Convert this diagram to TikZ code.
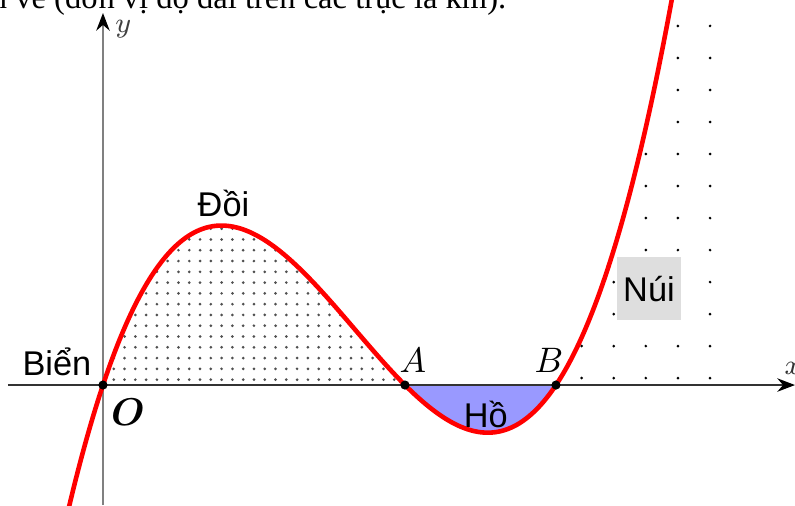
\documentclass[tikz,border=0pt]{standalone}
\usepackage{fontspec}
\usepackage{bm}
\setmainfont{Liberation Serif}
\newfontfamily\nhanfont{Liberation Sans}
\usetikzlibrary{arrows.meta}
\definecolor{mauho}{RGB}{153,153,255}
\definecolor{maunui}{RGB}{222,222,222}
\definecolor{mauchamdoi}{RGB}{80,80,80}
\tikzset{
	nhan/.style={font=\nhanfont\fontsize{9.7}{11}\selectfont,inner sep=0pt},
	diem/.style={font=\fontsize{10}{12}\selectfont,inner sep=0pt}
}
\begin{document}
\begin{tikzpicture}[smooth,samples=200,x=1.5cm,y=1.5cm,>={Stealth[length=5pt,width=3.8pt,color=black]}]
	\clip (-0.682,-0.795) rectangle (4.583,2.550);
	\node[anchor=base east,inner sep=0pt,font=\fontsize{9.2}{11}\selectfont] (dong) at (2.675,2.492) {n vẽ (đơn vị độ dài trên các trục là km).};
	\coordinate (O) at (0,0);
	\coordinate (A) at (2,0);
	\coordinate (B) at (3,0);
	% ho
	\fill[mauho] (A) -- plot[domain=2:3] (\x,{0.5*\x*(\x-2)*(\x-3)}) -- cycle;
	% doi
	\begin{scope}
		\clip (O) -- plot[domain=0:2] (\x,{0.5*\x*(\x-2)*(\x-3)}) -- cycle;
		\foreach \i in {1,...,28}
			\foreach \j in {0,...,14}
				\fill[mauchamdoi] (\i/14,{(\j+0.5)/14}) circle (0.42pt);
	\end{scope}
	% nui
	\begin{scope}
		\clip (B) -- plot[domain=3:3.8] (\x,{0.5*\x*(\x-2)*(\x-3)}) -- (4.2,2.8) -- (4.2,0) -- cycle;
		\foreach \i in {0,...,4}
			\foreach \j in {0,...,11}
				\fill ({3.17+\i*0.2126},{0.046+\j*0.212}) circle (0.42pt);
	\end{scope}
	\draw[->,black!80,line width=0.5pt] (-0.63,0)--(4.583,0);
	\node[black!80,font=\fontsize{8}{9}\selectfont,inner sep=0pt] (nhanx) at (4.57,0.113) {$x$};
	\draw[->,black!50,line width=0.5pt] (0,-0.795)--(0,2.464);
	\node[black!75,font=\fontsize{8}{9}\selectfont,inner sep=0pt] (nhany) at (0.135,2.355) {$y$};
	\draw[red,line width=1.3pt,domain=-0.25:3.8] plot(\x,{0.5*\x*(\x-2)*(\x-3)});
	\fill (O) circle (1.3pt) (A) circle (1.3pt) (B) circle (1.3pt);
	\node[nhan,anchor=base] (bien) at (-0.305,0.066) {Biển};
	\node[nhan,anchor=base] (doi) at (0.798,1.113) {Đồi};
	\node[nhan,anchor=base] (ho) at (2.536,-0.278) {Hồ};
	\node[nhan,fill=maunui,minimum width=0.636cm,minimum height=0.626cm] (nui) at (3.616,0.639) {Núi};
	\node[font=\fontsize{11}{13}\selectfont,inner sep=0pt] (nhanO) at (0.166,-0.179) {$\bm{O}$};
	\node[diem] (nhanA) at (2.053,0.166) {$A$};
	\node[diem] (nhanB) at (2.954,0.166) {$B$};
\end{tikzpicture}
\end{document}
